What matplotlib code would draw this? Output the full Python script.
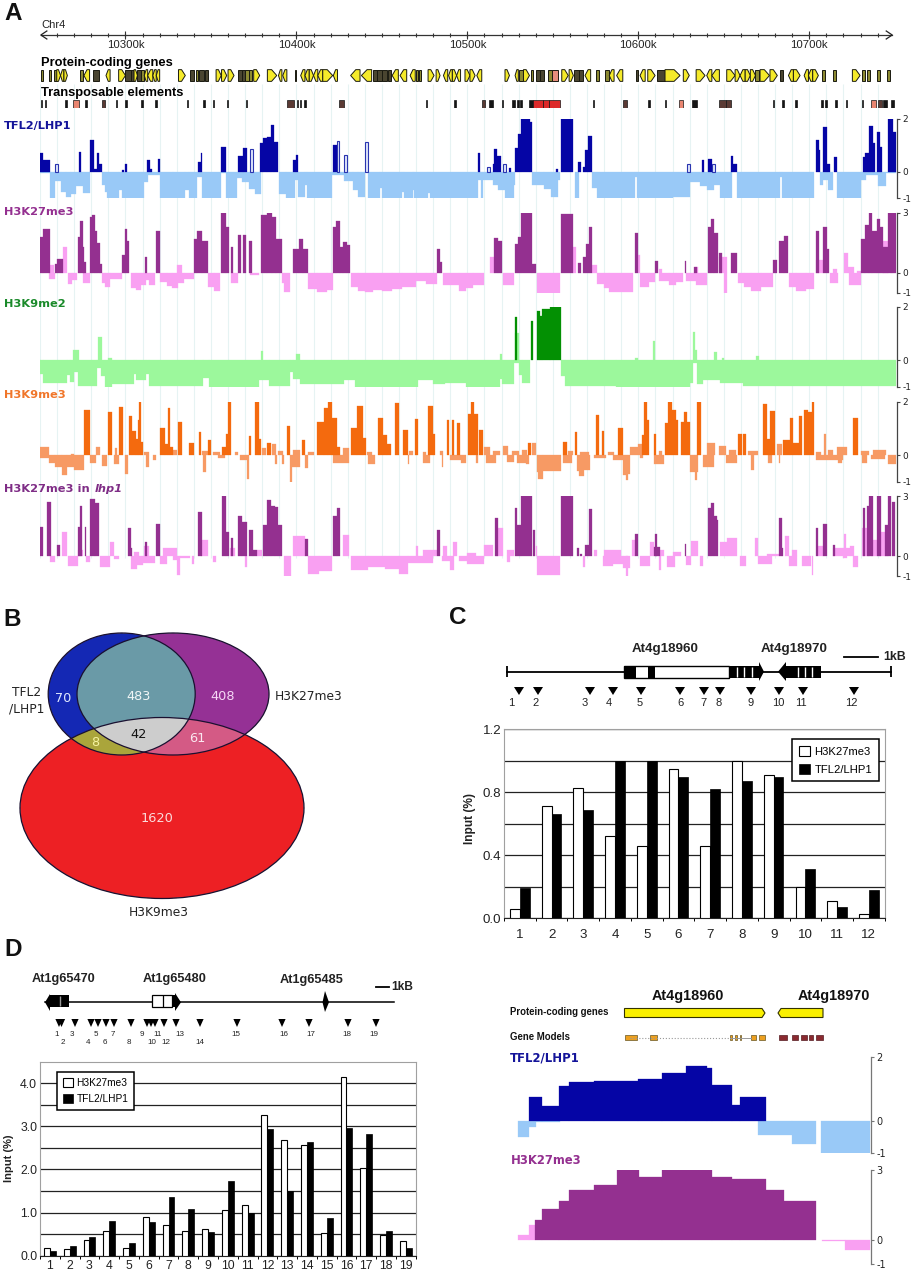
import numpy as np
import matplotlib
matplotlib.use("Agg")
import matplotlib.pyplot as plt
from matplotlib.patches import Ellipse, Polygon, Rectangle

W, H = 911, 1273
ARIAL = "Liberation Sans"

# ---- panel A data, positions are kb past 10,000k on Chr4, runs are (start, end, value)
ruler_major = [300, 400, 500, 600, 700]

gene_runs = [
    (250.4, 251.5, 0), (255, 256.2, 0), (258, 259.8, 0), (259.8, 262, 1), (262, 264, -1), (264, 266, 1),
    (273.4, 275, 0), (275.7, 279, -1), (281, 284.5, 2), (288.6, 291, -1), (296, 300, 1), (300, 303, 2),
    (303, 305, 2), (305, 307, 1), (307, 309, 2), (309.2, 311, 0), (311, 313, -1), (313, 316, -1),
    (316, 318, -1), (318, 320, -1), (331, 335, 1), (337.7, 340, 2), (341, 342.5, 0), (343, 346, 2),
    (346.5, 348.5, 2), (353, 356, 1), (356.2, 359.2, 1), (360, 363.5, 1), (366, 368, 2), (368, 370, 2),
    (370, 372, 0), (372.5, 374, 0), (375, 378.5, 1), (383, 388.5, 1), (389.5, 391.5, -1), (392, 394.4, -1),
    (399, 400, 2), (402.5, 405, -1), (405, 407.5, -1), (407.5, 410, 1), (410, 412.5, -1), (412.5, 415.4, -1),
    (415.4, 421.2, 1), (421.6, 424, -1), (431.7, 437.2, -1), (438, 444, -1), (445, 447, 2), (447, 450, 2),
    (450, 453, 2), (453.5, 455.5, 2), (456, 459.6, -1), (460.6, 464.5, -1), (466.5, 469.5, -1), (470, 471.3, 0),
    (471.5, 472.8, 0), (477, 480.5, 1), (481.7, 484, 1), (486, 488.5, -1), (489, 491.2, -1), (491.2, 493.7, 1),
    (493.7, 496, -1), (498.6, 501.5, 1), (501.5, 504.5, 1), (505.5, 508.4, -1), (522, 524.6, 1), (527.9, 529.8, -1),
    (530.4, 532.8, 0), (532.8, 536.3, 1), (537, 538.5, 0), (540, 542.5, 2), (542.5, 545, 2), (547.4, 549.3, 0),
    (549.3, 553.2, 3), (555.2, 559, 1), (559.5, 562, 1), (562.4, 565, 2), (565, 567.8, 2), (568.8, 572.1, -1),
    (575.3, 576.8, 0), (580.5, 583, 0), (583, 585.8, -1), (587.3, 590.9, -1), (598.7, 600, 2), (601, 604, -1),
    (605.5, 609.8, 1), (610.8, 615.6, 2), (615.6, 624.4, 1), (626.3, 629.8, 1), (633.8, 639, 1), (640, 643, -1),
    (643, 647.4, -1), (651.7, 656.6, 1), (656.6, 659.5, 1), (659.5, 662.5, -1), (662.5, 665.5, 1), (665.5, 668.5, 1),
    (668.5, 670.5, 0), (671.2, 676.7, 1), (677, 681.3, 1), (683, 684.5, 2), (687.8, 690.7, -1), (690.7, 694.6, 1),
    (697, 699.5, -1), (699.5, 702, -1), (702, 705.3, 1), (707.3, 709.2, 0), (713.7, 715.5, 0), (725.2, 729.7, 1),
    (730.7, 732.6, 0), (733.6, 735.5, 0), (739.5, 741.5, 0), (745.3, 747.3, 0),
]

te_black = [
    (250.4, 251), (253, 253.5), (264.6, 265.6), (276.3, 277.3), (294.5, 295), (299.7, 300.7), (309, 310),
    (317.3, 318.3), (335.8, 336.8), (345.6, 346.7), (351, 352), (359.6, 360.2), (370.5, 371), (400.5, 401.2),
    (402, 402.5), (404.4, 405.6), (475.8, 476.4), (492.4, 493.4), (512.7, 515.2), (520.5, 521), (526, 528),
    (529.2, 530.4), (531, 531.8), (536.3, 538.5), (573.3, 574.1), (605.7, 606.9), (615.6, 616.2), (631.2, 634.2),
    (678.6, 679.2), (684, 685.2), (691.7, 693), (706.7, 707.9), (709.2, 710.2), (715, 716.2), (721.3, 722.3),
    (731, 731.6), (743, 745.3), (748, 749.6),
]
te_brown = [(286, 288), (394.3, 398.6), (425, 427.8), (508.4, 510.3), (591.3, 593.6), (647.4, 651), (651, 654), (740.4, 742.5)]
te_pink = [(269.5, 272.8), (623.8, 626), (736.1, 739)]
te_red = [(538.5, 544), (544, 548), (548, 554.2)]

tfl2_up = [
    (250, 252, .7), (252, 256, .44), (273, 274, .75), (279, 281.6, 1.2), (281.6, 283.5, .12), (283.5, 284.7, .7),
    (284.7, 286, .3), (298, 299, .07), (299.5, 301, .3), (312.4, 314.4, .44), (314.4, 315.5, .1), (319, 320, .5),
    (342.5, 344, .38), (344, 345, .7), (356, 358.8, .95), (365.6, 368.5, .6), (368.5, 371, .9),
    (378.7, 380.6, 1.08), (380.6, 382.6, 1.27), (382.6, 385, 1.33), (385, 386.9, 1.77), (386.9, 389.4, 1.14),
    (398.2, 399.8, .44), (399.8, 401, .63), (421.6, 423.5, 1.0), (506.4, 507.4, .7), (514.8, 515.8, .3),
    (515.8, 517.2, .85), (517.2, 519.5, .6), (524.6, 525.7, .13), (527.9, 529.8, .9), (529.8, 531.2, 1.45),
    (531.2, 536.6, 2), (536.6, 537.6, 1.9), (551.9, 552.8, .12), (554.8, 562, 2), (564.9, 566.5, .38),
    (567.9, 569, .2), (569, 570.8, .82), (570.8, 573.1, 1.35), (637, 638.4, .44), (641, 643, .47),
    (654.2, 655.2, .6), (655.2, 657.5, .3), (704, 705.7, 1.2), (705.7, 706.3, .82), (708.3, 710.6, 1.68),
    (710.6, 712.2, .3), (714.7, 716, .57), (731.3, 732.6, .57), (732.6, 735.2, .7), (735.2, 737.1, 1.75),
    (737.1, 738.5, 1.08), (739.5, 741.4, 1.5), (741.4, 742.6, .95), (746.3, 748.8, 2), (748.8, 751, 1.5),
]
tfl2_open = [
    (259, 260.5, .3), (373, 374.5, .85), (423.5, 425, 1.16), (427.8, 429.4, .63), (440, 442, 1.14),
    (511.3, 513.2, .2), (521, 522.6, .3), (628.7, 630.2, .28), (643, 644.9, .3),
]
tfl2_dn = [
    (250, 256, -.05), (256, 259, -1), (259, 262, -.35), (262, 265, -.75), (265, 268, -.95), (268, 271, -.85),
    (271, 275, -.55), (275, 279, -.8), (286, 288, -.5), (288, 289, -.75), (289, 296, -1), (296, 298, -.7),
    (298, 311, -1), (311, 313, -.4), (313, 320, -.12), (320, 328, -.97), (328, 335, -1), (335, 337, -.7),
    (337, 342, -1), (342, 345, -.2), (345, 356, -1), (356, 359, -.05), (359, 365, -1), (365, 368, -.25),
    (368, 372, -.4), (372, 376, -.65), (376, 379, -.85), (390, 394, -.85), (394, 399, -1), (399, 401, -.3),
    (401, 405, -.95), (405, 406, -.5), (406, 421, -.98), (421, 428, -.1), (428, 433, -.35), (433, 436, -.7),
    (436, 440, -.95), (442, 449, -1), (449, 450, -.6), (450, 462, -1), (462, 463, -.75), (463, 468, -1),
    (468, 469, -.7), (469, 477, -.97), (477, 478, -.8), (478, 506, -1), (506, 508, -.3), (508, 509, -1),
    (509, 515, -.3), (515, 518, -.5), (518, 522, -.7), (522, 527, -1), (527, 528, -.5), (538, 545, -.5),
    (545, 549, -.65), (549, 553, -.95), (553, 554, -.3), (563, 565, -1), (573, 576, -.6), (576, 598, -1),
    (598, 599, -.2), (599, 620, -1), (620, 630, -.95), (630, 636, -.4), (636, 640, -.55), (640, 644, -.7),
    (644, 648, -.5), (648, 655, -1), (658, 683, -1), (683, 684, -.2), (684, 703, -1), (706, 708, -.5),
    (708, 711, -.3), (711, 714, -.7), (716, 730, -1), (730, 733, -.3), (733, 740, -.1), (740, 745, -.55),
    (745, 751, -.05),
]

k27_up = [
    (250, 252, 1.8), (252, 256, 2.2), (258.8, 260, .45), (260, 263.7, .7), (272, 273.4, 1.8), (273.4, 275, 2.6),
    (275, 275.5, 1.3), (276, 277, .55), (279, 280.2, 2.8), (280.2, 282.2, 2.9), (282.2, 283.5, 2.1),
    (283.5, 285, 1.5), (285, 286, .45), (298.2, 299.7, .9), (299.7, 301, 2.2), (301, 302.3, 1.6),
    (311.4, 312.8, .8), (318, 320, 2.1), (340, 341.6, 1.7), (341.6, 344.6, 2.1), (344.6, 348, 1.6),
    (356, 358.8, 3), (358.8, 360.8, 2.3), (362, 363, 1.3), (365.6, 367.6, 1.9), (369, 370.6, 1.9),
    (372, 374.2, 1.6), (379.3, 382.6, 2.9), (382.6, 385.5, 3), (385.5, 388, 2.8), (388, 391.4, 1.7),
    (398.2, 401.7, 1.2), (401.7, 403.7, 1.7), (403.7, 407, 1.2), (421.6, 423.1, 2.3), (423.1, 425.5, 2.6),
    (425.5, 427.4, 1.3), (427.4, 429.4, 1.55), (429.4, 431.4, 1.4), (482, 484, 1.2), (484, 485.4, .55),
    (515.8, 517.7, 1.75), (517.7, 520.1, 1.6), (527.9, 529.8, 1.45), (529.8, 531.2, 1.8), (531.2, 537.6, 3),
    (537.6, 540.2, .45), (554.8, 562, 2.95), (564.5, 566.5, .5), (567.5, 569.4, .8), (569.4, 571.4, 1.45),
    (571.4, 573.1, 2.3), (598, 600, 2), (609.8, 611.7, .6), (627, 628, .6), (632.8, 634.5, .3),
    (640.6, 642.5, 2.3), (642.5, 644.5, 2.7), (644.5, 646.8, 2), (647.4, 648.8, 1), (654.2, 657.5, 1),
    (678.6, 681.3, .65), (682.5, 685.4, 1.6), (685.4, 687.8, 1.85), (703.8, 705.7, 2.1), (708.3, 710.6, 2.3),
    (710.6, 711.6, 1.2), (730.1, 732.6, 1.7), (732.6, 735.2, 2.4), (735.2, 736.7, 3), (736.7, 739.5, 2.1),
    (739.5, 741.4, 2.7), (741.4, 743.4, 2.3), (743.4, 746.3, 1.3), (746.3, 748.2, 3), (748.2, 751, 3),
]
k27_light = [
    (255, 258, .4), (263.7, 266, 1.3), (330, 333, .4), (513, 515.8, .8), (562, 563.5, 1.3), (573, 575.6, .4),
    (600, 601, .9), (612, 614, .2), (633, 635, .3), (647, 652, .8), (704, 708, .65), (714, 716, .2),
    (720.5, 722.6, 1), (722.6, 726, .3), (728, 730, .1), (743, 746, 1.6),
]
k27_dn = [
    (255, 258.7, -.3), (266.6, 269, -.55), (269, 271.5, -.35), (275, 279, -.5), (286, 288, -.5), (288, 291, -.7),
    (291, 298, -.3), (303, 306, -.75), (306, 309, -.85), (309, 312, -.6), (312, 314, -.35), (314, 317, -.6),
    (320, 324, -.45), (324, 327, -.65), (327, 331, -.75), (331, 334, -.5), (334, 340, -.3), (348.5, 352, -.7),
    (352, 355.3, -.9), (362, 366, -.5), (373, 378, -.1), (391.4, 393, -.5), (393, 396, -.95), (407, 412, -.8),
    (412, 418, -.95), (418, 421.6, -.85), (432, 436, -.7), (436, 440, -.9), (440, 445, -.95), (445, 450, -.85),
    (450, 456, -.9), (456, 462, -.8), (462, 470, -.7), (470, 476, -.4), (476, 482, -.55), (486, 495, -.6),
    (495, 499, -.9), (499, 503, -.75), (503, 510, -.6), (521, 527, -.6), (540.5, 554, -1), (575.7, 580, -.55),
    (580, 583, -.75), (583, 596.7, -.97), (601, 606, -.7), (606, 610, -.45), (612, 618, -.4), (618, 622, -.6),
    (622, 626, -.45), (628, 634, -.4), (634, 640, -.6), (650, 652, -1), (658.5, 662, -.5), (662, 666, -.7),
    (666, 672, -.9), (672, 679, -.7), (688.4, 692, -.7), (692, 698, -.9), (698, 702.5, -.8), (712, 717, -.5),
    (723, 730, -.6),
]

k9me2_up = [(527.9, 528.8, 1.6), (537, 538.4, 1.45), (540.5, 542.5, 1.85), (542.5, 543.5, 1.65), (543.5, 548.3, 1.9), (548.3, 555, 2)]
k9me2_light = [
    (269.5, 273, .4), (284, 286, .87), (290, 292, .1), (379, 380.5, .35), (400, 402, .25), (519, 520.5, .25),
    (527.9, 530, 1), (598, 600, .1), (608.8, 610, .7), (631.8, 633, 1.05), (633, 634.5, .4), (644.5, 646, .3),
    (649, 650, .1), (669, 670.5, .15),
]
k9me2_dn = [
    (250, 252, -.5), (252, 265.6, -.85), (265.6, 267.5, -.55), (267.5, 270, -.8), (270, 272, -.45), (272, 283.5, -.95),
    (283.5, 285.5, -.3), (285.5, 288, -.6), (288, 292, -1), (292, 305, -.9), (305, 306, -.5), (306, 312, -.75),
    (312, 314, -.5), (314, 345.6, -.95), (345.6, 349, -.65), (349, 378, -1), (378, 384, -.75), (384, 396, -.95),
    (396, 398, -.45), (398, 402, -.7), (402, 428, -.9), (428, 434, -.75), (434, 471, -1), (471, 480, -.75),
    (480, 487, -.9), (487, 499, -.85), (499, 519, -1), (519, 520, -.7), (520, 527, -.9), (527, 530, -.1),
    (530, 532, -.55), (532, 536.6, -.85), (554.8, 557, -.6), (557, 587, -.95), (587, 630, -1), (630, 632, -.85),
    (632, 634.5, -.1), (634.5, 638, -.9), (638, 648, -.75), (648, 661, -.85), (661, 751, -.98),
]

k9me3_up = [
    (276, 279, 1.7), (290, 292, 1.6), (296, 298.5, 1.8), (302.3, 304, 1.45), (304, 306, .9), (306, 307.5, .6),
    (307.5, 308, 1.3), (308, 309, 2), (309, 310, .5), (320, 323, 1), (323, 324.6, .4), (324.6, 326, 1.75),
    (326, 328, .3), (331, 333, 1.25), (337, 340, .45), (343, 344, .85), (348.5, 350, .55), (356.6, 359, .3),
    (359, 360, .8), (360, 362, 2), (372, 373.5, .7), (376, 378, 2), (378, 379, .6), (382.6, 385, .45),
    (394.7, 396, 1.1), (403.4, 405, .55), (412, 415.9, 1.25), (415.9, 418.2, 1.75), (418.2, 420.8, 2),
    (420.8, 423.6, 1.4), (423.6, 425.5, .3), (432, 435.6, 1), (435.6, 438.8, 1.85), (439, 440.5, .65),
    (447.5, 450.7, 1.4), (450.7, 453, .75), (453, 455.2, .4), (457.7, 460, 1.95), (462.5, 465, .95),
    (469.4, 471.3, 1.35), (477, 479.7, 1.85), (479.7, 481, .8), (487.9, 489, 1.3), (490.8, 492, 1.3),
    (493.7, 495.6, 1.2), (500.5, 502, 1.55), (502, 504, 2), (504, 506, 1.55), (507, 509, .95),
    (535.7, 537, .45), (556, 558.5, .5), (563, 564.3, .85), (575.3, 577, 1.5), (579, 580, .9), (588.3, 591.3, 1),
    (602, 603.6, .75), (603.6, 605, 2), (605, 606, 1.3), (609, 610.4, .8), (615.6, 617.5, 1.2), (617.5, 619.6, 2),
    (619.6, 622.1, 1.7), (622.1, 623, 1.3), (625, 626.5, 1.25), (626.5, 628.5, 1.6), (628.5, 630, 1.25),
    (634.2, 636.5, 2), (658.5, 660.5, .8), (661.5, 663, .8), (672.8, 675, 1.9), (675, 677, .6), (677, 680, 1.65),
    (684.9, 688.8, .55), (688.8, 690.7, 1.4), (690.7, 694, .45), (694.2, 695.6, 1.45), (697, 699.5, 1.7),
    (699.5, 701.7, 1.6), (701.8, 703, 2), (725.4, 728.5, 1.4),
]
k9me3_light = [
    (250, 255, .3), (268, 270, .05), (283, 285, .3), (294, 295, .25), (311, 314, .1), (328, 330, .2), (345, 348, .15),
    (351, 355, .12), (364, 366, .1), (380, 382, .25), (386, 388, .4), (389, 392, .15), (398, 402, .2), (407, 410, .12),
    (427, 431, .25), (441, 444, .1), (466, 468, .15), (474, 476, .1), (484, 486, .15), (510, 513, .3), (515, 519, .15),
    (521, 524, .35), (526, 530, .15), (532, 535, .2), (538, 540, .45), (559, 562, .15), (566, 571, .1), (582, 586, .12),
    (595, 600, .3), (600, 602, .4), (612, 614, .15), (640, 645, .45), (647, 651, .35), (653, 657, .2), (664, 670, .15),
    (681, 684, .4), (704, 707, .1), (708.5, 709.5, .8), (711, 714, .2), (716, 722, .3), (730, 735, .15), (737, 745, .2),
]
k9me3_dn = [
    (250, 255, -.1), (255, 259, -.3), (259, 263, -.45), (263, 266, -.75), (266, 270, -.45), (270, 276, -.55),
    (279, 283, -.3), (286, 289, -.4), (293, 296, -.35), (300, 301.5, -.7), (312, 314, -.45), (316, 318, -.2),
    (345.5, 347, -.65), (354, 358, -.1), (367, 371, -.2), (371, 372.5, -.9), (387.5, 388.5, -.35), (391.5, 392.5, -.35),
    (396, 397.5, -1), (397.5, 402, -.45), (405, 407, -.5), (421.5, 431, -.3), (442, 446, -.35), (465, 466, -.35),
    (474, 478, -.3), (485, 486, -.45), (490, 496, -.2), (496, 499, -.3), (505, 506, -.3), (511, 517, -.3),
    (523, 527, -.25), (529, 534, -.3), (534, 536, -.35), (540.5, 541.5, -.65), (541.5, 544, -.9), (544, 555, -.6),
    (556, 561, -.3), (564, 565, -.6), (565, 568, -.8), (568, 572, -.55), (574, 581, -.1), (585, 591, -.2),
    (591, 593, -.75), (593, 594, -.95), (594, 595, -.7), (601, 603, -.1), (609, 615, -.35), (630, 633, -.65),
    (633, 634.5, -.95), (634.5, 635, -.65), (638, 644, -.45), (651, 657.5, -.3), (666, 667.5, -.55), (676, 678, -.3),
    (682, 683, -.3), (704, 720, -.2), (717, 719, -.3), (731, 734, -.3), (736, 744, -.15), (746, 751, -.35),
]

lhp1_up = [
    (250, 251.6, 1.45), (254, 256.2, 2.7), (260, 261.7, .55), (272, 273.4, 1.45), (273.4, 274.4, 2.5), (276.3, 277, 1.45),
    (279, 282.2, 2.85), (282.2, 284.8, 2.65), (301.6, 303, 1.4), (303, 303.8, .4), (311.4, 312.8, .7), (317.7, 320, 1.6),
    (342.6, 344.6, 2.2), (356.3, 358.8, 3), (358.8, 360.8, 1.2), (362, 363, .9), (365.6, 368, 2), (368, 370.9, 1.7),
    (372.5, 374.4, 1.3), (374.8, 376.8, .3), (380.6, 382.6, 1.55), (382.6, 385, 2.8), (385, 387.5, 2.5), (387.5, 389.5, 2.45),
    (389.5, 391.4, 1.55), (405.3, 407, .85), (421.6, 423.5, 2), (423.5, 425.5, 2.4), (482, 484, 1.3), (516.2, 518.1, 1.9),
    (527.9, 529, 2.4), (529, 531.2, 1.55), (531.2, 537.6, 3), (538.6, 539.6, 1.3), (554.8, 562, 3), (564, 565.5, .4),
    (566, 567, .1), (568.8, 571.4, .55), (571.4, 573, 2.35), (598.3, 600, 1.1), (609.2, 612.7, .45), (609.8, 610.8, 1.1),
    (627, 628, .6), (640.6, 642.5, 2.4), (642.5, 644, 2.65), (644, 645.8, 2), (645.8, 646.5, 1.8), (682.5, 684, 1.9),
    (684, 684.5, .4), (703.8, 705.3, 1.4), (708.3, 710.2, 1.6), (714, 715, .55), (731.3, 732.6, 2.4), (733.6, 735.2, 2.5),
    (735.2, 737, 3), (739.5, 741.8, 3), (744.3, 746.3, 1.55), (746.3, 748, 3), (748.2, 750, 2.7),
]
lhp1_light = [
    (262.7, 266, 1.2), (272, 275, .3), (291, 293, .7), (305, 308, .2), (311, 314, .5), (322, 330, .4), (344, 348, .8),
    (361, 364, .4), (377, 380, .3), (398, 405, 1), (427, 431, 1.05), (470, 471, .5), (474, 482, .3), (486, 488, .5),
    (491.8, 494, .7), (500, 505, .15), (510, 515, .55), (517, 521, 1.4), (523, 527, .3), (540, 541, .5), (574, 576, .3),
    (580, 590, .3), (596, 598, .8), (607, 609, .7), (612, 615, .3), (620, 625, .2), (631, 635, .75), (648, 652, .7),
    (652, 657.5, .9), (668, 670, .9), (675, 682, .1), (686, 688, 1), (690, 693, .3), (705, 708, .5), (714, 724, .4),
    (720.5, 721.5, 1.1), (724, 726, .5), (731, 735, 1.4), (736, 740, .8), (741, 744, 1.2), (744, 746, .9),
]
lhp1_dn = [
    (256, 258.8, -.3), (266.6, 272, -.5), (277, 279, -.3), (285, 291, -.55), (293, 296, -.15), (303, 307, -.65),
    (307, 310.5, -.45), (310.5, 317, -.35), (320, 324, -.4), (328, 330, -.2), (330, 332, -.95), (332, 338, -.1),
    (339, 340, -.4), (351, 353, -.3), (370, 371, -.55), (393, 397, -1), (407, 413, -.9), (413, 421, -.75), (432, 442, -.7),
    (442, 452, -.55), (452, 460, -.65), (460, 465, -.9), (465, 480, -.35), (485, 490, -.25), (490, 491.9, -.7),
    (495, 500, -.25), (500, 510, -.4), (523, 525, -.3), (540.5, 554, -.95), (567.5, 568.8, -.55), (579.5, 585, -.5),
    (585, 591, -.4), (591, 595, -.6), (593, 594, -1), (601, 607, -.5), (612, 613.5, -.7), (616.6, 621.5, -.55),
    (628, 631, -.45), (636, 638, -.5), (659.5, 663, -.5), (670, 678, -.4), (688, 692.6, -.5), (696, 701, -.5),
    (701.5, 702.3, -.95), (720, 722, -.1), (725.8, 728.7, -.55),
]

# ---- panel B data
venn_labels = ["70", "483", "408", "42", "8", "61", "1620"]

# ---- panel C data
c_cats = [str(i) for i in range(1, 13)]
c_k27 = [.06, .71, .83, .52, .46, .95, .46, 1.0, .91, .2, .11, .03]
c_tfl2 = [.19, .66, .69, 1.0, 1.0, .9, .82, .87, .9, .31, .07, .18]

# ---- panel D data
d_cats = [str(i) for i in range(1, 20)]
d_k27 = [.17, .15, .36, .58, .19, .89, .71, .58, .62, 1.05, 1.18, 3.27, 2.68, 2.57, .53, 4.15, 2.04, .47, .34]
d_tfl2 = [.1, .22, .43, .81, .3, .78, 1.35, 1.09, .55, 1.73, 1.0, 2.94, 1.5, 2.63, .87, 2.96, 2.83, .57, .19]

# ---- lower right close-up, runs on a locus scale
e_tfl2_up = [
    (118, 155, .75), (155, 208, .47), (208, 238, 1.1), (238, 312, 1.21), (312, 445, 1.25), (445, 517, 1.31),
    (517, 587, 1.5), (587, 652, 1.73), (652, 665, 1.66), (665, 725, 1.13), (725, 750, .49), (750, 828, .75),
]
e_tfl2_dn = [(85, 118, -.5), (118, 138, -.2), (138, 210, -.03), (805, 905, -.45), (905, 978, -.72), (993, 1140, -1)]
e_k27_up = [
    (135, 155, .88), (155, 208, 1.35), (208, 238, 1.67), (238, 312, 2.16), (312, 382, 2.34), (382, 447, 3),
    (447, 517, 2.72), (517, 665, 3), (665, 725, 2.72), (725, 750, 2.6), (750, 828, 2.63), (828, 882, 2.16), (882, 978, 1.69),
]
e_k27_light = [(85, 118, .2), (118, 135, .65)]
e_k27_dn = [(995, 1065, -.04), (1065, 1140, -.42)]


def px_axes(fig, x0, y0, x1, y1):
    # axes placed by pixel box, y measured from the top like the picture
    return fig.add_axes([x0 / W, 1 - y1 / H, (x1 - x0) / W, (y1 - y0) / H])


def draw_runs(ax, runs, color, **kw):
    left = [r[0] for r in runs]
    width = [r[1] - r[0] for r in runs]
    vals = [r[2] for r in runs]
    kw.setdefault("edgecolor", color)
    kw.setdefault("linewidth", 0.2)
    ax.bar(left, vals, width, align="edge", color=color, **kw)


def track(fig, y0, y1, top, xlim=(250, 751.3), x0=40, x1=897, scale_color="#444444", fs=6.5):
    ax = px_axes(fig, x0, y0, x1, y1)
    ax.set_xlim(*xlim)
    ax.set_ylim(-1, top)
    ax.patch.set_alpha(0)
    for s in ["top", "bottom", "left"]:
        ax.spines[s].set_visible(False)
    ax.spines["right"].set_color(scale_color)
    ax.spines["right"].set_linewidth(0.9)
    ax.set_xticks([])
    ax.yaxis.tick_right()
    ax.set_yticks([-1, 0, top])
    ax.set_yticklabels(["-1", "0", str(top)], fontsize=fs, fontfamily="DejaVu Sans", color="#222222")
    ax.tick_params(axis="y", length=2, width=0.8, pad=2, color=scale_color)
    return ax


def triangles(ax, xs, y0, y1, half):
    for x in xs:
        ax.add_patch(Polygon([(x - half, y0), (x + half, y0), (x, y1)], color="black", lw=0))


def group_bars(fig, box, k27, tfl2, cats, ymax, major, minor, bar_w, fs, leg_anchor, xpad):
    ax = px_axes(fig, *box)
    n = len(cats)
    x = np.arange(1, n + 1)
    ax.bar(x - bar_w / 2, k27, bar_w, color="white", edgecolor="black", linewidth=0.8, zorder=3, label="H3K27me3")
    ax.bar(x + bar_w / 2, tfl2, bar_w, color="black", edgecolor="black", linewidth=0.5, zorder=3, label="TFL2/LHP1")
    ax.set_xlim(0.5, n + 0.5)
    ax.set_ylim(0, ymax)
    ax.set_xticks(x)
    ax.set_xticklabels(cats, fontsize=fs, fontfamily=ARIAL, color="#222222")
    ax.set_xticks(np.arange(0.5, n + 1), minor=True)
    ax.tick_params(axis="x", which="major", length=0, pad=xpad)
    ax.tick_params(axis="x", which="minor", length=2.5, width=0.7, direction="out")
    ax.set_yticks(major)
    ax.set_yticklabels(["%.1f" % v for v in major], fontsize=fs, fontfamily=ARIAL, color="#222222")
    ax.set_yticks(minor, minor=True)
    ax.tick_params(axis="y", which="both", length=0, pad=2)
    ax.grid(axis="y", which="both", color="#222222", linewidth=0.9, zorder=1)
    ax.set_axisbelow(True)
    for s in ["top", "right", "left"]:
        ax.spines[s].set_color("#a0a0a0")
    ax.spines["bottom"].set_color("#222222")
    leg = ax.legend(loc="center", bbox_to_anchor=leg_anchor, fancybox=False, framealpha=1, edgecolor="black",
                    prop={"family": ARIAL, "size": fs - 1.5}, handlelength=1.0, handleheight=1.0, handletextpad=0.35,
                    borderpad=0.6, labelspacing=0.6)
    leg.get_frame().set_linewidth(1.1)
    leg.set_zorder(6)
    return ax


fig = plt.figure(figsize=(W / 100, H / 100), dpi=100)

# everything placed by pixels lives here, on top of the track axes
bg = px_axes(fig, 0, 0, W, H)
bg.set_xlim(0, W)
bg.set_ylim(H, 0)
bg.axis("off")
bg.set_zorder(10)

# ---- panel A
guide = px_axes(fig, 40, 60, 897, 582)
guide.set_xlim(250, 751.3)
guide.axis("off")
guide.vlines(np.arange(250, 750, 10), 0, 1, color="#e6f3f3", linewidth=0.8)

ruler = px_axes(fig, 40, 25, 897, 52)
ruler.set_xlim(250, 751.3)
ruler.set_ylim(27, 0)
ruler.axis("off")
ruler.plot([250.5, 748.5], [10, 10], color="#333333", lw=0.9)
ruler.vlines(np.arange(260, 750, 10), 8, 12, color="#333333", lw=0.8)
ruler.vlines(ruler_major, 6, 14, color="#333333", lw=0.8)
ruler.plot([254, 250.5, 254], [6, 10, 14], color="#222222", lw=0.9)
ruler.plot([745, 748.5, 745], [6, 10, 14], color="#222222", lw=0.9)
for k in ruler_major:
    ruler.text(k, 19.5, "10%dk" % k, ha="center", va="center", fontsize=8.2, fontfamily=ARIAL, color="#222222")
bg.text(41, 24.5, "Chr4", fontsize=8, fontfamily=ARIAL, color="#222222", va="center")

genes = px_axes(fig, 40, 69, 897, 82)
genes.set_xlim(250, 751.3)
genes.set_ylim(0, 1)
genes.axis("off")
for s, e, d in gene_runs:
    tip = min((e - s) * 0.55, 3.5)
    if d == 1:
        pts = [(s, .95), (e - tip, .95), (e, .5), (e - tip, .05), (s, .05)]
    elif d == -1:
        pts = [(e, .95), (s + tip, .95), (s, .5), (s + tip, .05), (e, .05)]
    else:
        pts = [(s, .95), (e, .95), (e, .05), (s, .05)]
    face = {1: "#f5ea2a", -1: "#f5ea2a", 0: "#8c8a32", 2: "#4a4530", 3: "#e58d7c"}[d]
    genes.add_patch(Polygon(pts, facecolor=face, edgecolor="#1a1a10", linewidth=0.7))

tes = px_axes(fig, 40, 100, 897, 108)
tes.set_xlim(250, 751.3)
tes.set_ylim(0, 1)
tes.axis("off")
for runs, col in [(te_black, "#151515"), (te_brown, "#5a3a34"), (te_pink, "#e98570"), (te_red, "#dd2a2a")]:
    tes.bar([r[0] for r in runs], 1, [r[1] - r[0] for r in runs], align="edge", color=col, edgecolor="#151515", linewidth=0.5)

bg.text(41, 63, "Protein-coding genes", fontsize=9.3, fontweight="bold", fontfamily=ARIAL, va="center")
bg.text(41, 93, "Transposable elements", fontsize=9.3, fontweight="bold", fontfamily=ARIAL, va="center")

ax = track(fig, 119, 198.3, 2)
draw_runs(ax, tfl2_dn, "#99c9f7")
draw_runs(ax, tfl2_up, "#0505a5")
draw_runs(ax, tfl2_open, "#dfe6fb", edgecolor="#2a35b0", linewidth=0.8)

ax = track(fig, 212.7, 292.7, 3)
draw_runs(ax, k27_dn, "#f9a0f2")
draw_runs(ax, k27_light, "#f9a0f2")
draw_runs(ax, k27_up, "#943090")

ax = track(fig, 306.7, 387, 2)
draw_runs(ax, k9me2_dn, "#9cf89c")
draw_runs(ax, k9me2_light, "#9cf89c")
draw_runs(ax, k9me2_up, "#039003")

ax = track(fig, 401.7, 481.7, 2)
draw_runs(ax, k9me3_dn, "#f79a64")
draw_runs(ax, k9me3_light, "#f79a64")
draw_runs(ax, k9me3_up, "#f46a0e")

ax = track(fig, 496, 576, 3)
draw_runs(ax, lhp1_dn, "#f9a0f2")
draw_runs(ax, lhp1_light, "#f9a0f2")
draw_runs(ax, lhp1_up, "#943090")

for label, y, col in [("TFL2/LHP1", 126, "#14149a"), ("H3K27me3", 212, "#943090"), ("H3K9me2", 304, "#1a8a2a"),
                      ("H3K9me3", 395, "#f0762a"), ("H3K27me3 in ", 489.5, "#7f2d86")]:
    bg.text(4, y, label, fontsize=8.2, fontweight="bold", fontfamily="DejaVu Sans", color=col, va="center")
bg.text(95, 489.5, "lhp1", fontsize=8.2, fontweight="bold", fontstyle="italic", fontfamily="DejaVu Sans", color="#7f2d86", va="center")

# ---- panel B venn, region colours from membership of three ellipses
xs = np.linspace(10, 315, 1220)
ys = np.linspace(625, 905, 1120)
gx, gy = np.meshgrid(xs, ys)
in_a = ((gx - 121.7) / 73.5) ** 2 + ((gy - 694) / 61) ** 2 <= 1
in_b = ((gx - 173) / 96) ** 2 + ((gy - 694) / 61) ** 2 <= 1
in_c = ((gx - 162) / 142) ** 2 + ((gy - 808) / 90.5) ** 2 <= 1
rgba = np.zeros(gx.shape + (4,))
regions = [
    (in_a & ~in_b & ~in_c, "#1428b4"), (in_b & ~in_a & ~in_c, "#963296"), (in_c & ~in_a & ~in_b, "#ed2024"),
    (in_a & in_b & ~in_c, "#6a9aa8"), (in_a & in_c & ~in_b, "#aaa53c"), (in_b & in_c & ~in_a, "#d45a86"),
    (in_a & in_b & in_c, "#cdcdcd"),
]
for mask, col in regions:
    rgba[mask] = matplotlib.colors.to_rgba(col)
bg.imshow(rgba, extent=(10, 315, 905, 625), aspect="auto", interpolation="antialiased", zorder=1)
bg.set_xlim(0, W)
bg.set_ylim(H, 0)
for c, w, h in [((121.7, 694), 147, 122), ((173, 694), 192, 122), ((162, 808), 284, 181)]:
    bg.add_patch(Ellipse(c, w, h, facecolor="none", edgecolor="#1a1030", linewidth=0.9, zorder=2))
venn_xy = [(63, 698), (139, 697), (223, 696), (139, 735), (95, 742), (197, 739), (157, 818)]
venn_col = ["#dfe8ff", "#f0f6f6", "#f6d8f6", "#111111", "#f4f2a0", "#fbe8f0", "#fbdcdc"]
for t, (x, y), col in zip(venn_labels, venn_xy, venn_col):
    bg.text(x, y, t, fontsize=9.3, fontfamily="DejaVu Sans", color=col, ha="center", va="center", zorder=3)
bg.text(27, 693, "TFL2", fontsize=8.8, fontfamily="DejaVu Sans", color="#222222", ha="center", va="center")
bg.text(27, 709, "/LHP1", fontsize=8.8, fontfamily="DejaVu Sans", color="#222222", ha="center", va="center")
bg.text(275, 696, "H3K27me3", fontsize=8.8, fontfamily="DejaVu Sans", color="#222222", va="center")
bg.text(159, 912, "H3K9me3", fontsize=8.8, fontfamily="DejaVu Sans", color="#222222", ha="center", va="center")

# ---- panel C schematic
bg.plot([506.7, 890.7], [671.7, 671.7], color="black", lw=1.3, zorder=2)
bg.vlines([506.7, 890.7], 666, 677, color="black", lw=1.3)
bg.add_patch(Rectangle((624, 666), 105, 12, facecolor="white", edgecolor="black", lw=1, zorder=3))
for x0, x1 in [(624, 636), (648, 655), (730, 760)]:
    bg.add_patch(Rectangle((x0, 666), x1 - x0, 12, color="black", lw=0, zorder=4))
for x in [737, 744, 752]:
    bg.vlines(x, 667, 677, color="white", lw=1, zorder=5)
bg.add_patch(Polygon([(759, 662), (764, 671.7), (759, 681)], color="black", lw=0, zorder=4))
bg.add_patch(Rectangle((786, 666), 35, 12, color="black", lw=0, zorder=4))
for x in [798, 805, 812]:
    bg.vlines(x, 667, 677, color="white", lw=1, zorder=5)
bg.add_patch(Polygon([(786, 662), (778, 671.7), (786, 681)], color="black", lw=0, zorder=4))
bg.text(665, 649, "At4g18960", fontsize=9.6, fontweight="bold", fontfamily=ARIAL, ha="center", va="center", color="#222222")
bg.text(794, 649, "At4g18970", fontsize=9.6, fontweight="bold", fontfamily=ARIAL, ha="center", va="center", color="#222222")
bg.plot([844, 878], [657, 657], color="black", lw=1.3)
bg.text(883, 657, "1kB", fontsize=8.8, fontweight="bold", fontfamily=ARIAL, va="center", color="#222222")
c_tri = [519, 538, 590, 613, 641, 680, 704, 720, 751, 779, 803, 854]
c_num = [511, 536, 585, 609, 640, 681, 703, 719, 751, 778, 801, 851]
triangles(bg, c_tri, 687, 695, 5)
for t, x in zip(c_cats, c_num):
    bg.text(x, 703, t, fontsize=8, fontfamily=ARIAL, ha="center", va="center", color="#222222")

group_bars(fig, (504, 729.3, 884.7, 918.3), c_k27, c_tfl2, c_cats, 1.2, [0, .4, .8, 1.2], [.2, .6, 1.0], .31, 9.6, (0.871, 0.835), 8)
bg.text(470, 818, "Input (%)", fontsize=8.6, fontweight="bold", fontfamily=ARIAL, rotation=90, ha="center", va="center", color="#222222")

# ---- panel D schematic
bg.plot([45, 394], [1002.3, 1002.3], color="black", lw=1.1, zorder=2)
bg.add_patch(Rectangle((50, 995), 19, 12, color="black", lw=0, zorder=4))
bg.add_patch(Polygon([(50, 994), (45, 1002.3), (50, 1011)], color="black", lw=0, zorder=4))
bg.vlines(60, 996, 1006, color="#999999", lw=1, zorder=5)
bg.add_patch(Rectangle((152, 995), 20, 12, facecolor="white", edgecolor="black", lw=0.9, zorder=4))
bg.vlines(163, 995, 1007, color="black", lw=0.9, zorder=5)
bg.add_patch(Rectangle((172, 995), 4, 12, color="black", lw=0, zorder=4))
bg.add_patch(Polygon([(175, 993), (181, 1002.3), (175, 1011)], color="black", lw=0, zorder=4))
bg.add_patch(Polygon([(325, 991), (329, 1002.3), (325, 1012), (322.5, 1002.3)], color="black", lw=0, zorder=4))
for t, x, y in [("At1g65470", 64, 979), ("At1g65480", 175, 979), ("At1g65485", 312, 980)]:
    bg.text(x, y, t, fontsize=9.2, fontweight="bold", fontfamily=ARIAL, ha="center", va="center", color="#222222")
bg.plot([376, 389], [987, 987], color="black", lw=1.3)
bg.text(391, 987, "1kB", fontsize=8.6, fontweight="bold", fontfamily=ARIAL, va="center", color="#222222")
d_tri = [59, 61.5, 75, 91, 98, 106, 114, 131, 147, 151, 155, 164, 176, 200, 237, 282, 309, 348, 376]
d_num_x = [57, 63, 72, 88, 96, 105, 113, 129, 142, 152, 158, 166, 180, 200, 236, 284, 311, 347, 374]
d_num_y = [1035, 1042, 1035, 1042, 1035, 1042, 1035, 1042, 1035, 1042, 1035, 1042, 1035, 1042, 1035, 1035, 1035, 1035, 1035]
triangles(bg, d_tri, 1019, 1027, 3.6)
for t, x, y in zip(d_cats, d_num_x, d_num_y):
    bg.text(x, y, t, fontsize=5.8, fontfamily=ARIAL, ha="center", va="center", color="#222222")

group_bars(fig, (40, 1062, 415.7, 1255.7), d_k27, d_tfl2, d_cats, 4.49, [0, 1, 2, 3, 4], [.5, 1.5, 2.5, 3.5], .3, 8.8, (0.148, 0.85), 3)
bg.text(9, 1158, "Input (%)", fontsize=8, fontweight="bold", fontfamily=ARIAL, rotation=90, ha="center", va="center", color="#222222")

# ---- lower right close-up
bg.text(688, 996, "At4g18960", fontsize=10.4, fontweight="bold", fontfamily=ARIAL, ha="center", va="center", color="#111111")
bg.text(834, 996, "At4g18970", fontsize=10.4, fontweight="bold", fontfamily=ARIAL, ha="center", va="center", color="#111111")
bg.text(510.5, 1012, "Protein-coding genes", fontsize=6.9, fontweight="bold", fontfamily=ARIAL, va="center", color="#111111")
bg.text(509.5, 1037, "Gene Models", fontsize=6.9, fontweight="bold", fontfamily=ARIAL, va="center", color="#111111")
bg.add_patch(Polygon([(624.5, 1008.5), (762, 1008.5), (765, 1013), (762, 1017.5), (624.5, 1017.5)], facecolor="#faf000", edgecolor="#333300", lw=0.8))
bg.add_patch(Polygon([(823, 1008.5), (781, 1008.5), (778, 1013), (781, 1017.5), (823, 1017.5)], facecolor="#faf000", edgecolor="#333300", lw=0.8))
bg.plot([630, 730], [1037.5, 1037.5], color="#999999", lw=0.8, ls=":")
bg.plot([730, 751], [1037.5, 1037.5], color="#999999", lw=0.7)
for x0, x1 in [(624.5, 637), (650, 656.5), (730, 732), (735, 737), (739.5, 741), (751, 756), (758.5, 765)]:
    bg.add_patch(Rectangle((x0, 1035), x1 - x0, 5, facecolor="#eda020", edgecolor="#665522", lw=0.5))
for x0, x1 in [(779, 787), (791.5, 798), (801, 807), (809, 813), (816, 823)]:
    bg.add_patch(Rectangle((x0, 1035), x1 - x0, 5, facecolor="#8a2a30", edgecolor="#551a20", lw=0.5))
bg.text(510, 1058, "TFL2/LHP1", fontsize=8.4, fontweight="bold", fontfamily="DejaVu Sans", color="#14149a", va="center")
bg.text(510.5, 1160, "H3K27me3", fontsize=8.4, fontweight="bold", fontfamily="DejaVu Sans", color="#943090", va="center")

ax = track(fig, 1057.3, 1152.7, 2, xlim=(0, 1142), x0=490, x1=490 + 1142 / 3, scale_color="#777777", fs=7)
draw_runs(ax, e_tfl2_dn, "#99c9f7")
draw_runs(ax, e_tfl2_up, "#0505a5")
ax = track(fig, 1170, 1263.5, 3, xlim=(0, 1142), x0=490, x1=490 + 1142 / 3, scale_color="#777777", fs=7)
draw_runs(ax, e_k27_dn, "#f9a0f2")
draw_runs(ax, e_k27_light, "#f9a0f2")
draw_runs(ax, e_k27_up, "#943090")

# ---- panel letters
for t, x, y in [("A", 4, 13), ("B", 3, 620), ("C", 449, 618), ("D", 4, 949)]:
    bg.text(x, y, t, fontsize=17.5, fontweight="bold", fontfamily=ARIAL, va="center", color="#111111")

fig.savefig("out.png", dpi=100)
